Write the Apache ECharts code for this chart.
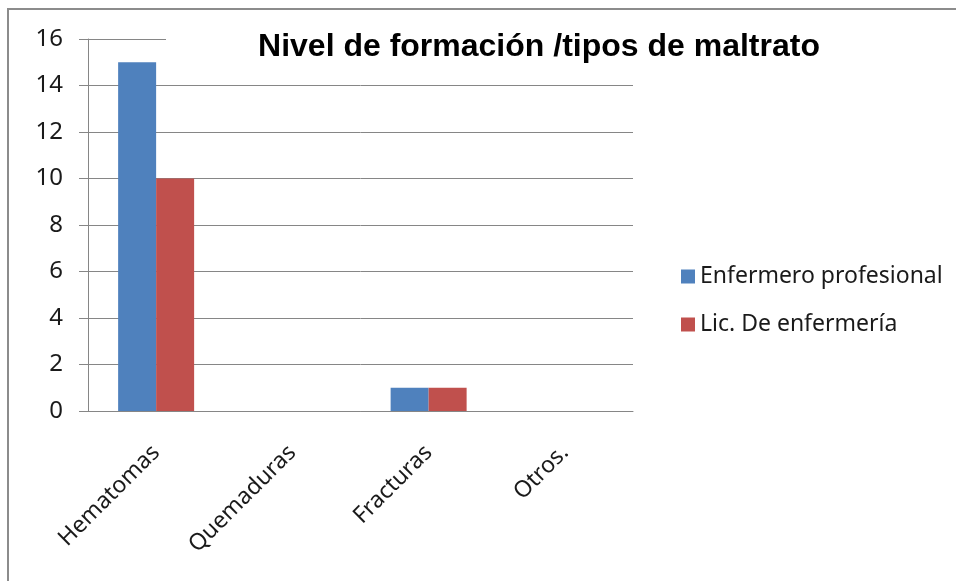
<!DOCTYPE html>
<html>
<head>
<meta charset="utf-8">
<script src="https://cdn.jsdelivr.net/npm/echarts@6/dist/echarts.min.js"></script>
<style>
  html, body { margin: 0; padding: 0; background: #fff; }
  #frame { position: absolute; left: 7px; top: 8px; width: 949px; height: 573px;
           border-left: 2px solid #8c8c8c; border-top: 2px solid #8c8c8c; box-sizing: border-box; }
  #chart { position: absolute; left: 0; top: 0; width: 956px; height: 581px; }
</style>
</head>
<body>
<div id="frame"></div>
<div id="chart"></div>
<script>
// datos del gráfico
var categorias = ['Hematomas', 'Quemaduras', 'Fracturas', 'Otros.'];
var enfermeroProfesional = [15, 0, 1, 0];
var licEnfermeria = [10, 0, 1, 0];
var ticksY = [0, 2, 4, 6, 8, 10, 12, 14, 16];

var fuente = 'Noto Sans';
var gris = '#868686';

var chart = echarts.init(document.getElementById('chart'));
chart.setOption({
  animation: false,
  title: {
    text: 'Nivel de formación /tipos de maltrato',
    left: 539, top: 31, textAlign: 'center', z: 60, padding: 0,
    textStyle: { fontFamily: 'Liberation Sans', fontWeight: 'bold', fontSize: 32, color: '#000' }
  },
  graphic: [{
    type: 'rect', z: 50,
    shape: { x: 166, y: 33, width: 470, height: 12 },
    style: { fill: '#fff' }
  }],
  legend: {
    orient: 'vertical', left: 676, top: 260, itemGap: 25, itemTextGap: 7,
    itemWidth: 14, itemHeight: 14, icon: 'rect',
    textStyle: { fontFamily: fuente, fontSize: 23, color: '#1a1a1a' },
    data: ['Enfermero profesional', 'Lic. De enfermería']
  },
  grid: { left: 88, top: 39, right: 323, bottom: 170 },
  xAxis: {
    type: 'category', data: categorias,
    axisLine: { lineStyle: { color: gris } },
    axisTick: { length: 10, lineStyle: { color: gris } },
    axisLabel: { rotate: 45, margin: 38, fontFamily: fuente, fontSize: 23, color: '#1a1a1a' }
  },
  yAxis: {
    type: 'value', min: 0, max: 16, interval: 2,
    axisLine: { show: true, lineStyle: { color: gris } },
    axisTick: { show: true, length: 9, lineStyle: { color: gris } },
    splitLine: { lineStyle: { color: gris } },
    axisLabel: {
      margin: 25, fontFamily: fuente, fontSize: 24, color: '#1a1a1a',
      formatter: function (v) { return ticksY.indexOf(v) >= 0 ? v : ''; }
    }
  },
  series: [
    { name: 'Enfermero profesional', type: 'bar', data: enfermeroProfesional,
      barWidth: 38, barGap: 0, itemStyle: { color: '#4F81BD' } },
    { name: 'Lic. De enfermería', type: 'bar', data: licEnfermeria,
      barWidth: 38, barGap: 0, itemStyle: { color: '#C0504D' } }
  ]
});
</script>
</body>
</html>
